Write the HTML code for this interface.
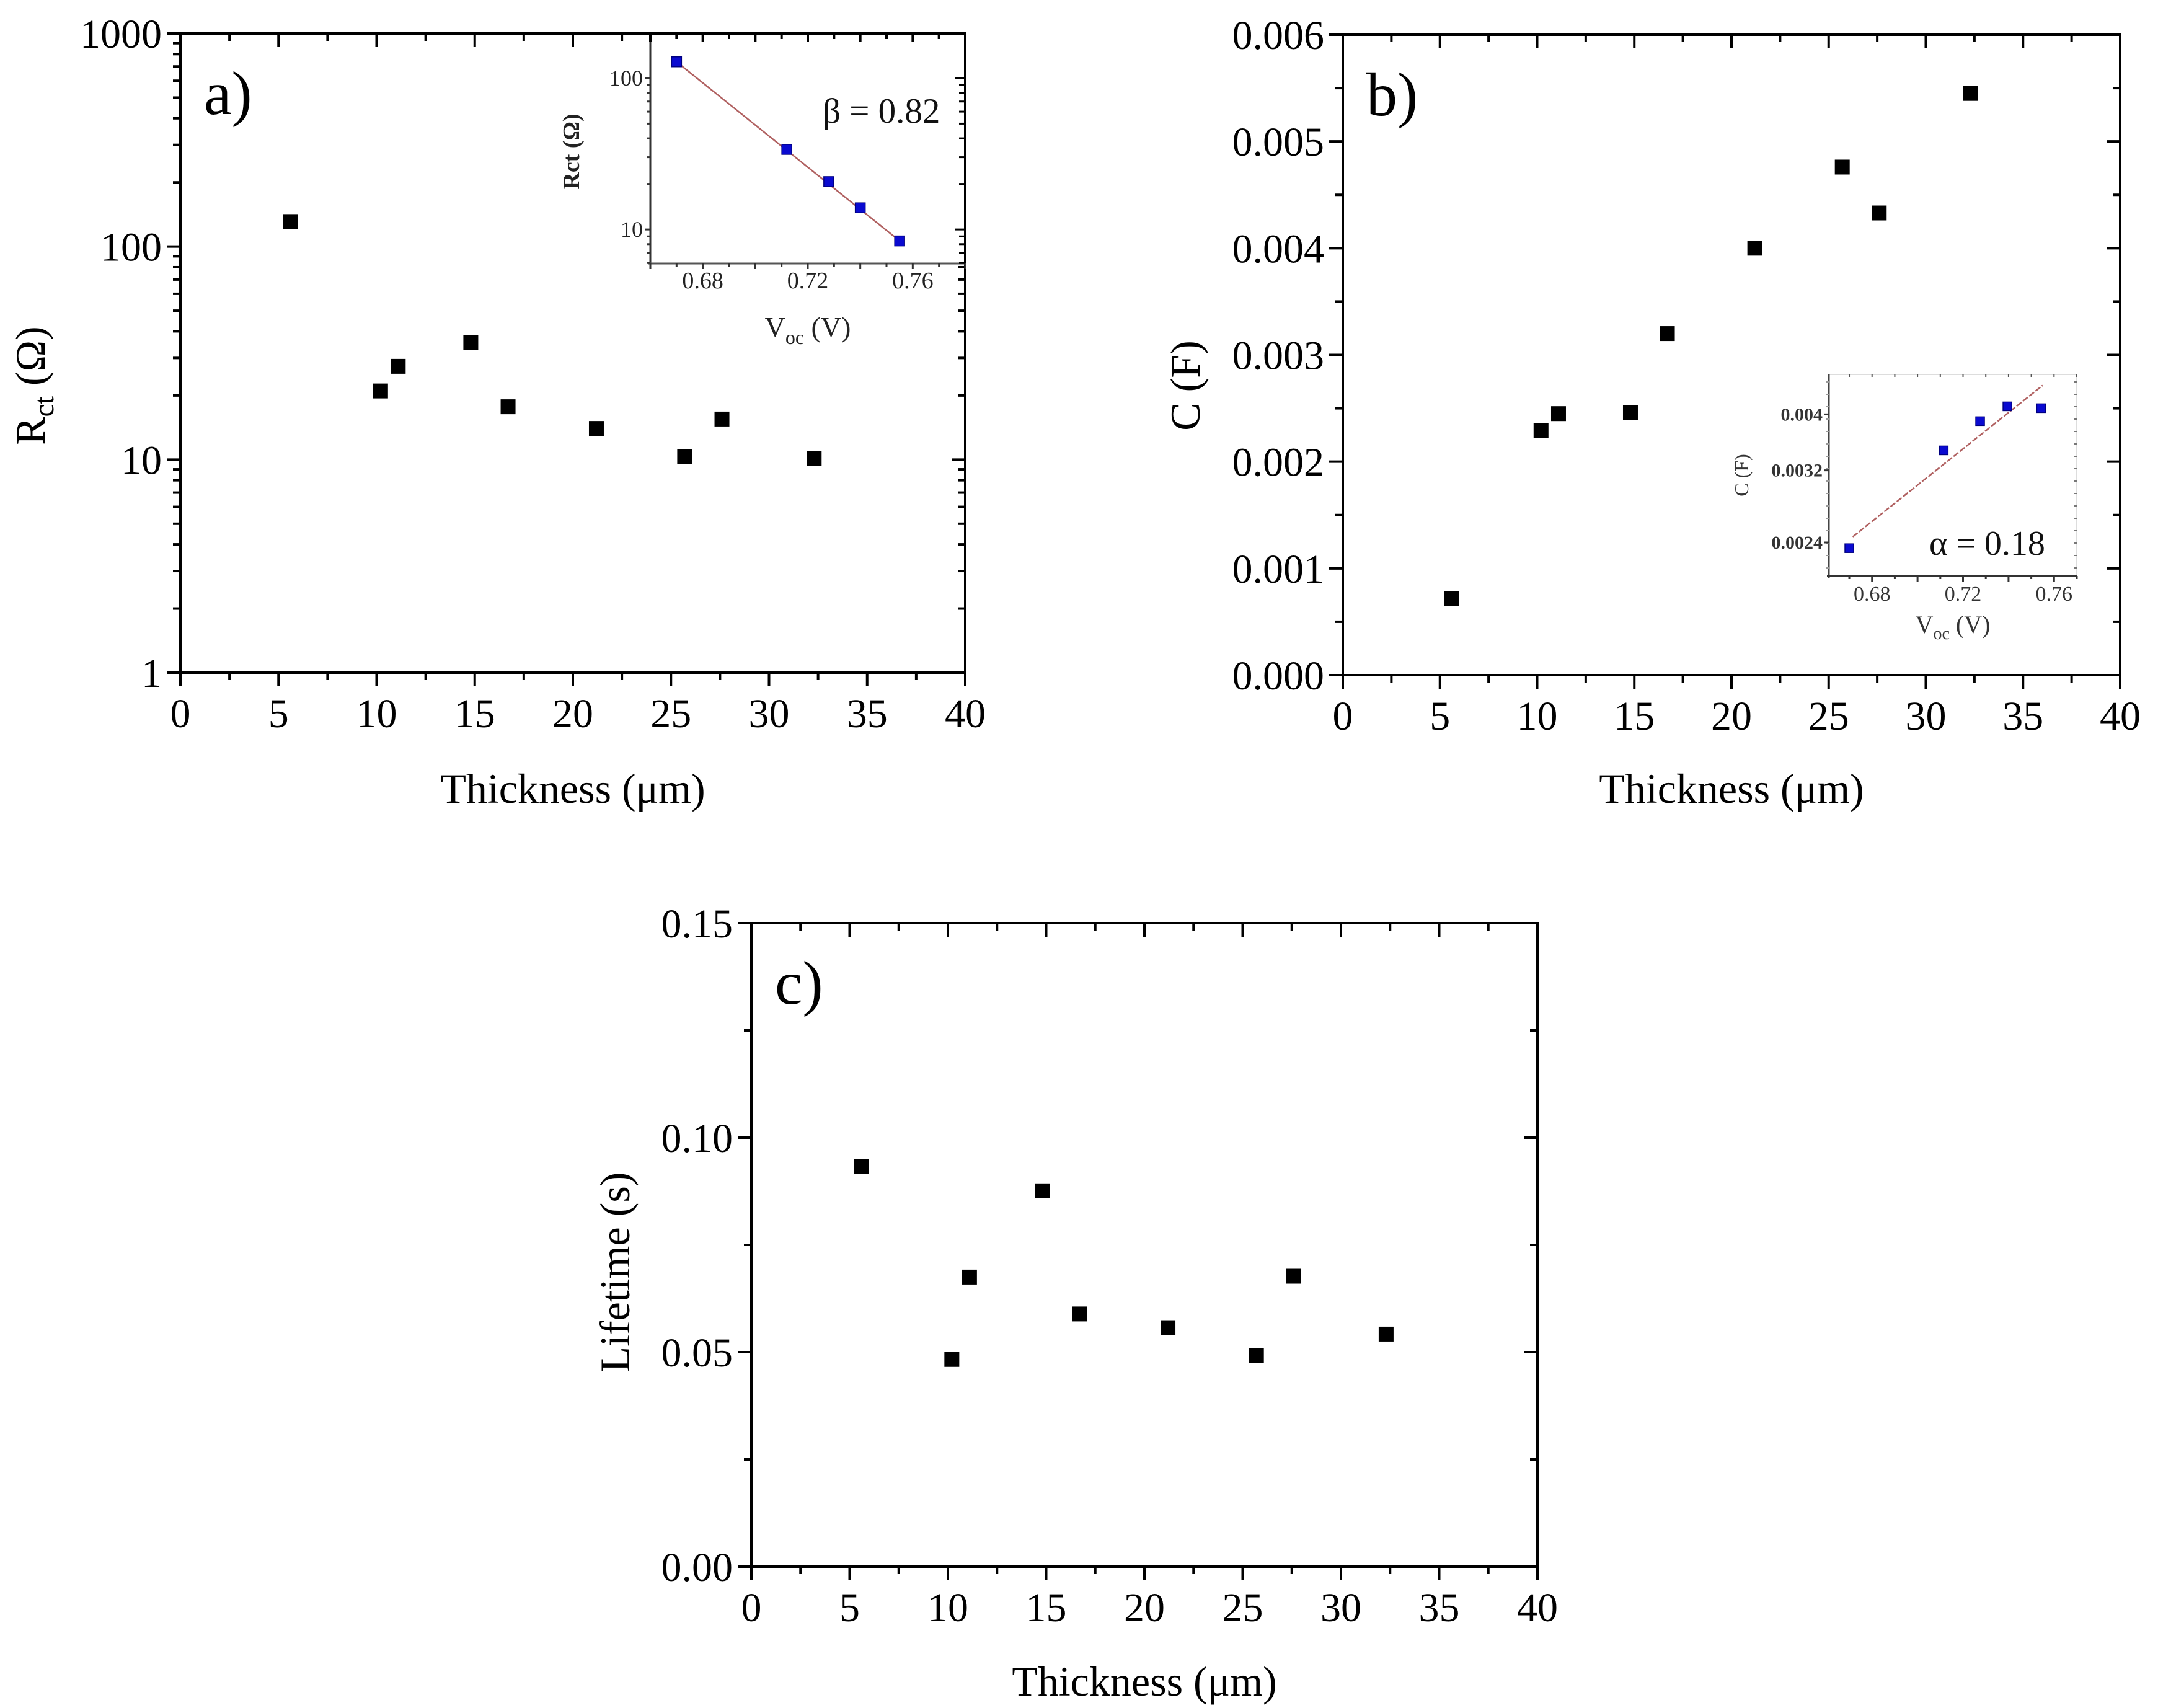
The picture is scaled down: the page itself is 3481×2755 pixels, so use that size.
<!DOCTYPE html>
<html><head><meta charset="utf-8">
<style>
html,body{margin:0;padding:0;background:#fff;}
svg{display:block;font-family:"Liberation Serif","DejaVu Serif",serif;}
</style></head>
<body>
<svg id="fig" width="3481" height="2755" viewBox="0 0 3481 2755" xmlns="http://www.w3.org/2000/svg">
<rect width="3481" height="2755" fill="#fff"/>
</svg>
<script>
// ---- data ----
const thickness = [5.6, 10.2, 11.1, 14.8, 16.7, 21.2, 25.7, 27.6, 32.3];
const rct = [131, 21, 27.4, 35.4, 17.7, 14, 10.3, 15.5, 10.1];
const capacitance = [0.00072, 0.00229, 0.00245, 0.00246, 0.0032, 0.004, 0.00476, 0.00433, 0.00545];
const lifetime = [0.0933, 0.0483, 0.0675, 0.0876, 0.0589, 0.0557, 0.0492, 0.0677, 0.0542];
const insetAVoc = [0.670, 0.712, 0.728, 0.740, 0.755];
const insetARct = [128, 33.8, 20.7, 13.9, 8.4];
const insetAFit = [[0.670, 128], [0.755, 8.4]];
const insetBVoc = [0.670, 0.7115, 0.7275, 0.7395, 0.7543];
const insetBC = [0.002346, 0.003465, 0.003893, 0.00413, 0.0041];
const insetBFit = [[0.6715, 0.002455], [0.755, 0.00449]];
const xTicks = [0, 5, 10, 15, 20, 25, 30, 35, 40];
const aYTicks = [1, 10, 100, 1000];
const aYLabels = ["1", "10", "100", "1000"];
const bYTicks = [0, 0.001, 0.002, 0.003, 0.004, 0.005, 0.006];
const bYLabels = ["0.000", "0.001", "0.002", "0.003", "0.004", "0.005", "0.006"];
const cYTicks = [0, 0.05, 0.10, 0.15];
const cYLabels = ["0.00", "0.05", "0.10", "0.15"];
const insetXTicks = [0.68, 0.72, 0.76];
const insetXLabels = ["0.68", "0.72", "0.76"];
const insetAYTicks = [10, 100];
const insetBYTicks = [0.0024, 0.0032, 0.004];
const insetBYLabels = ["0.0024", "0.0032", "0.004"];

const NS = "http://www.w3.org/2000/svg";
const svg = document.getElementById("fig");
function el(tag, attrs, parent, text) {
  const e = document.createElementNS(NS, tag);
  for (const k in attrs) e.setAttribute(k, attrs[k]);
  if (text !== undefined) e.textContent = text;
  (parent || svg).appendChild(e);
  return e;
}
function lin(d0, d1, r0, r1) { return v => r0 + (v - d0) / (d1 - d0) * (r1 - r0); }
function lg(d0, d1, r0, r1) { return v => r0 + (Math.log10(v) - Math.log10(d0)) / (Math.log10(d1) - Math.log10(d0)) * (r1 - r0); }

function panel(o) {
  const g = el("g", {});
  
  
  const {L, R, T, B} = o;
  const sx = lin(0, 40, L, R);
  const sy = o.sy;
  // frame
  const fr = el("rect", {x: L, y: T, width: R - L, height: B - T, fill: "none", stroke: "#000", "stroke-width": 4}, g);
  
  
  // x ticks
  for (let v = 0; v <= 40; v += 2.5) {
    const x = sx(v), maj = v % 5 === 0;
    const len = maj ? 22 : 12;
    el("line", {x1: x, y1: B, x2: x, y2: B + len, stroke: "#000", "stroke-width": 4}, g);
    el("line", {x1: x, y1: T, x2: x, y2: T + len, stroke: "#000", "stroke-width": 4}, g);
  }
  xTicks.forEach(v => {
    const t = el("text", {x: sx(v), y: B + 88, "font-size": 66, "text-anchor": "middle"}, g, String(v));
    
    
  });
  // y ticks
  o.yMinor.forEach(v => {
    const y = sy(v);
    el("line", {x1: L - 12, y1: y, x2: L, y2: y, stroke: "#000", "stroke-width": 4}, g);
    el("line", {x1: R - 12, y1: y, x2: R, y2: y, stroke: "#000", "stroke-width": 4}, g);
  });
  o.yTicks.forEach((v, i) => {
    const y = sy(v);
    el("line", {x1: L - 22, y1: y, x2: L, y2: y, stroke: "#000", "stroke-width": 4}, g);
    el("line", {x1: R - 22, y1: y, x2: R, y2: y, stroke: "#000", "stroke-width": 4}, g);
    const t = el("text", {x: L - 30, y: y + 23, "font-size": 66, "text-anchor": "end"}, g, o.yLabels[i]);
    
    
  });
  // titles
  const xt = el("text", {x: (L + R) / 2, y: o.xTitleY, "font-size": 68, "text-anchor": "middle"}, g, "Thickness (μm)");
  
  
  const yt = el("text", {x: 0, y: 0, "font-size": 68, "text-anchor": "middle", transform: `translate(${o.yTitleX},${o.yTitleY}) rotate(-90)`}, g);
  
  
  if (o.yTitleSub) {
    el("tspan", {}, yt, o.yTitle);
    el("tspan", {"font-size": 46, dy: 14}, yt, o.yTitleSub);
    el("tspan", {dy: -14}, yt, " " + o.yTitleRest);
  } else yt.textContent = o.yTitle;
  const pl = el("text", {x: L + 38, y: T + 130, "font-size": 100}, g, o.letter);
  
  
  // points
  o.vals.forEach((v, i) => {
    const r = el("rect", {x: sx(thickness[i]) - 12, y: sy(v) - 12, width: 24, height: 24, fill: "#000"}, g);
    
    
  });
  return g;
}

// Panel a
{
  const minor = [];
  for (let d = 1; d < 1000; d *= 10) for (let k = 2; k <= 9; k++) minor.push(d * k);
  panel({name: "panel-a", L: 291, R: 1557, T: 54, B: 1085, sy: lg(1, 1000, 1085, 54),
    yTicks: aYTicks, yLabels: aYLabels, yMinor: minor, vals: rct, letter: "a)",
    xTitleY: 1295, yTitleX: 72, yTitleY: 622, yTitle: "R", yTitleSub: "ct", yTitleRest: "(Ω)"});
}
// Panel b
{
  const minor = [];
  for (let v = 0.0005; v < 0.006; v += 0.001) minor.push(v);
  panel({name: "panel-b", L: 2166, R: 3420, T: 56, B: 1089, sy: lin(0, 0.006, 1089, 56),
    yTicks: bYTicks, yLabels: bYLabels, yMinor: minor, vals: capacitance, letter: "b)",
    xTitleY: 1295, yTitleX: 1935, yTitleY: 622, yTitle: "C (F)"});
}
// Panel c
{
  const minor = [0.025, 0.075, 0.125];
  panel({name: "panel-c", L: 1212, R: 2480, T: 1489, B: 2527, sy: lin(0, 0.15, 2527, 1489),
    yTicks: cYTicks, yLabels: cYLabels, yMinor: minor, vals: lifetime, letter: "c)",
    xTitleY: 2735, yTitleX: 1015, yTitleY: 2052, yTitle: "Lifetime (s)"});
}

// Inset a
{
  const g = el("g", {});
  
  
  const L = 1049, R = 1557, T = 54, B = 425;
  const sx = lin(0.66, 0.78, L, R);
  const sy = lg(5.96, 197, B, T);
  el("rect", {x: L, y: T, width: R - L, height: B - T, fill: "#fff", stroke: "none"}, g);
  el("line", {x1: L, y1: T, x2: L, y2: B + 4, stroke: "#333", "stroke-width": 3}, g);
  el("line", {x1: L - 4, y1: B, x2: R, y2: B, stroke: "#555", "stroke-width": 3}, g);
  el("line", {x1: L, y1: T, x2: R, y2: T, stroke: "#000", "stroke-width": 4}, g);
  el("line", {x1: R, y1: T, x2: R, y2: B, stroke: "#000", "stroke-width": 4}, g);
  for (let v = 0.66; v <= 0.781; v += 0.01) {
    const x = sx(v), maj = Math.round(v * 100) % 2 === 0;
    el("line", {x1: x, y1: B, x2: x, y2: B + (maj ? 9 : 5), stroke: "#333", "stroke-width": 3}, g);
    el("line", {x1: x, y1: T, x2: x, y2: T + (maj ? 14 : 9), stroke: "#000", "stroke-width": 4}, g);
  }
  insetXTicks.forEach((v, i) => {
    const t = el("text", {x: sx(v), y: B + 40, "font-size": 38, "text-anchor": "middle", fill: "#222"}, g, insetXLabels[i]);
    
    
  });
  [6,7,8,9,20,30,40,50,60,70,80,90,200].forEach(v => {
    const y = sy(v);
    if (y < T) return;
    el("line", {x1: L - 5, y1: y, x2: L, y2: y, stroke: "#333", "stroke-width": 3}, g);
    el("line", {x1: R - 10, y1: y, x2: R, y2: y, stroke: "#000", "stroke-width": 3}, g);
  });
  insetAYTicks.forEach(v => {
    const y = sy(v);
    el("line", {x1: L - 9, y1: y, x2: L, y2: y, stroke: "#333", "stroke-width": 3}, g);
    el("line", {x1: R - 16, y1: y, x2: R, y2: y, stroke: "#000", "stroke-width": 3}, g);
    const t = el("text", {x: L - 12, y: y + 12, "font-size": 36, "text-anchor": "end", fill: "#222"}, g, String(v));
    
    
  });
  const yt = el("text", {x: 0, y: 0, "font-size": 38, "font-weight": "bold", "text-anchor": "middle", fill: "#222", transform: `translate(${L - 115},${(T + B) / 2 + 5}) rotate(-90)`}, g, "Rct (Ω)");
  
  
  const xt = el("text", {x: (L + R) / 2, y: B + 118, "font-size": 46, "text-anchor": "middle", fill: "#222"}, g);
  
  
  el("tspan", {}, xt, "V");
  el("tspan", {"font-size": 32, dy: 12}, xt, "oc");
  el("tspan", {dy: -12}, xt, " (V)");
  const fit = el("line", {x1: sx(insetAFit[0][0]), y1: sy(insetAFit[0][1]), x2: sx(insetAFit[1][0]), y2: sy(insetAFit[1][1]), stroke: "#b06060", "stroke-width": 2.5}, g);
  
  
  insetAVoc.forEach((v, i) => {
    const r = el("rect", {x: sx(v) - 8, y: sy(insetARct[i]) - 8, width: 16, height: 16, fill: "#0a0ad0", stroke: "#000080", "stroke-width": 1.5}, g);
    
    
  });
  const lb = el("text", {x: 1327, y: 198, "font-size": 57, fill: "#111"}, g, "β = 0.82");
  
  
}

// Inset b
{
  const g = el("g", {});
  
  
  const L = 2950, R = 3350, T = 604, B = 929;
  const sx = lin(0.661, 0.770, L, R);
  const sy = lg(0.0021, 0.00469, B, T);
  el("rect", {x: L, y: T, width: R - L, height: B - T, fill: "#fff", stroke: "#ddd", "stroke-width": 2}, g);
  el("line", {x1: L, y1: T, x2: L, y2: B + 3, stroke: "#444", "stroke-width": 3}, g);
  el("line", {x1: L - 3, y1: B, x2: R, y2: B, stroke: "#333", "stroke-width": 3}, g);
  for (let v = 0.67; v <= 0.771; v += 0.01) {
    const x = sx(v), maj = Math.round(v * 100) % 2 === 0;
    el("line", {x1: x, y1: B, x2: x, y2: B + (maj ? 9 : 5), stroke: "#333", "stroke-width": 3}, g);
    el("line", {x1: x, y1: T, x2: x, y2: T + 4, stroke: "#555", "stroke-width": 2}, g);
  }
  for (let i = 0; i < 16; i++) {
    const y = T + 12 + i * 20;
    el("line", {x1: L - 4, y1: y, x2: L, y2: y, stroke: "#999", "stroke-width": 2}, g);
    el("line", {x1: R - 4, y1: y, x2: R, y2: y, stroke: "#777", "stroke-width": 2}, g);
  }
  insetXTicks.forEach((v, i) => {
    const t = el("text", {x: sx(v), y: B + 40, "font-size": 34, "text-anchor": "middle", fill: "#333"}, g, insetXLabels[i]);
    
    
  });
  insetBYTicks.forEach((v, i) => {
    const y = sy(v);
    el("line", {x1: L - 8, y1: y, x2: L, y2: y, stroke: "#333", "stroke-width": 3}, g);
    const t = el("text", {x: L - 10, y: y + 10, "font-size": 30, "font-weight": "bold", "text-anchor": "end", fill: "#333"}, g, insetBYLabels[i]);
    
    
  });
  const yt = el("text", {x: 0, y: 0, "font-size": 32, "text-anchor": "middle", fill: "#333", transform: `translate(${L - 130},${(T + B) / 2}) rotate(-90)`}, g, "C (F)");
  
  
  const xt = el("text", {x: (L + R) / 2, y: B + 92, "font-size": 40, "text-anchor": "middle", fill: "#333"}, g);
  
  
  el("tspan", {}, xt, "V");
  el("tspan", {"font-size": 28, dy: 10}, xt, "oc");
  el("tspan", {dy: -10}, xt, " (V)");
  const fit = el("line", {x1: sx(insetBFit[0][0]), y1: sy(insetBFit[0][1]), x2: sx(insetBFit[1][0]), y2: sy(insetBFit[1][1]), stroke: "#b06060", "stroke-width": 2.5, "stroke-dasharray": "10 3"}, g);
  
  
  insetBVoc.forEach((v, i) => {
    const r = el("rect", {x: sx(v) - 7, y: sy(insetBC[i]) - 7, width: 14, height: 14, fill: "#0a0ad0", stroke: "#000080", "stroke-width": 1.5}, g);
    
    
  });
  const lb = el("text", {x: 3112, y: 895, "font-size": 56, fill: "#111"}, g, "α = 0.18");
  
  
}
</script>
</body></html>
